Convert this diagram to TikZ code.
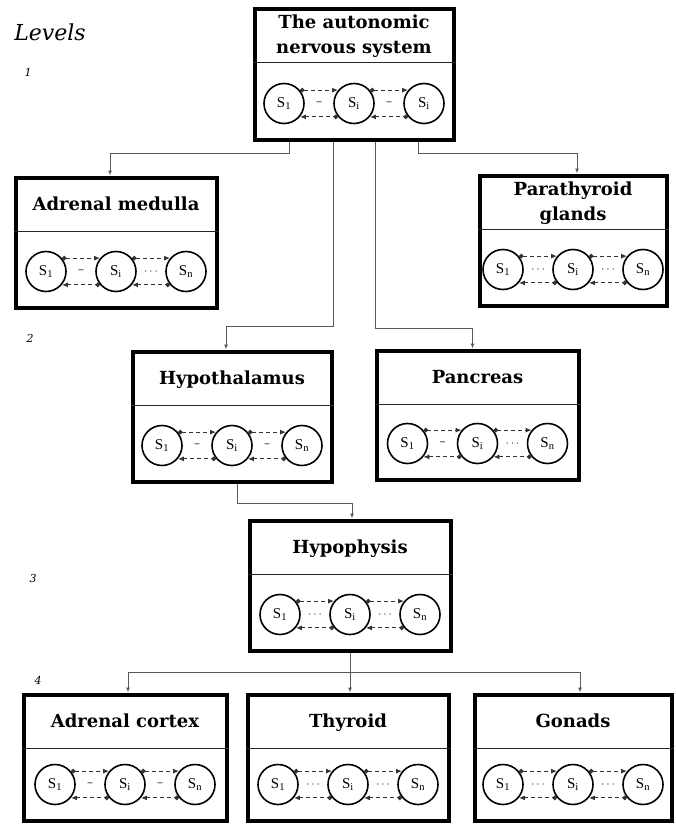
\documentclass[tikz,border=0pt]{standalone}
\usepackage{fontspec}
\setmainfont{DejaVu Serif}
\newfontfamily\ringfont{Liberation Serif}
\usetikzlibrary{arrows.meta}
\begin{document}
\begin{tikzpicture}[x=1pt,y=-1pt]
\tikzstyle{organ}=[draw, line width=4pt, minimum height=133pt, inner sep=0pt]
\tikzstyle{headline}=[font=\fontsize{18}{25}\selectfont\bfseries, align=center, inner sep=0pt]
\tikzstyle{ring}=[draw, circle, line width=1.6pt, minimum size=40pt, inner sep=0pt, font=\ringfont\fontsize{15}{17}\selectfont]
\tikzstyle{flow}=[dash pattern=on 4pt off 3pt, line width=1pt, black!80]
\tikzstyle{gapmark}=[font=\fontsize{12}{12}\selectfont, inner sep=0pt, black!85]
\tikzstyle{link}=[line width=1pt, black!65, -{Latex[length=5pt,width=4pt]}]
\tikzstyle{lvl}=[font=\itshape\fontsize{11}{13}\selectfont, inner sep=0pt]
\useasboundingbox (0,0) rectangle (675,827);
\node[lvl, font=\itshape\fontsize{22}{24}\selectfont] (lv) at (50,32) {Levels};
\node[lvl] (lv1) at (28,72) {1};
\node[lvl] (lv2) at (30,338) {2};
\node[lvl] (lv3) at (33,578) {3};
\node[lvl] (lv4) at (38,680) {4};
\node[organ, minimum width=199pt, minimum height=131pt] (ans) at (354,74) {};
\node[organ, minimum width=201pt, minimum height=130pt] (med) at (116,242.5) {};
\node[organ, minimum width=187pt, minimum height=130pt] (para) at (573,240.5) {};
\node[organ, minimum width=199pt, minimum height=130pt] (hyp) at (232,416.5) {};
\node[organ, minimum width=202pt, minimum height=129pt] (panc) at (477.5,415) {};
\node[organ, minimum width=201pt, minimum height=130pt] (pit) at (350,585.5) {};
\node[organ, minimum width=203pt, minimum height=126pt] (cort) at (125,757.5) {};
\node[organ, minimum width=201pt, minimum height=126pt] (thy) at (348,757.5) {};
\node[organ, minimum width=197pt, minimum height=126pt] (gon) at (573,757.5) {};
\node[headline] (ans-t) at ([yshift=-30]ans.north) {The autonomic\\nervous system};
\node[headline] (med-t) at ([yshift=-30]med.north) {\strut Adrenal medulla};
\node[headline] (para-t) at ([yshift=-30]para.north) {Parathyroid\\glands};
\node[headline] (hyp-t) at ([yshift=-30]hyp.north) {\strut Hypothalamus};
\node[headline] (panc-t) at ([yshift=-30]panc.north) {\strut Pancreas};
\node[headline] (pit-t) at ([yshift=-30]pit.north) {\strut Hypophysis};
\node[headline] (cort-t) at ([yshift=-30]cort.north) {\strut Adrenal cortex};
\node[headline] (thy-t) at ([yshift=-30]thy.north) {\strut Thyroid};
\node[headline] (gon-t) at ([yshift=-30]gon.north) {\strut Gonads};
\foreach \bx/\sa/\sc/\ga/\gb in {ans/1/i/--/--, med/1/n/--/$\cdots$, para/1/n/$\cdots$/$\cdots$, hyp/1/n/--/--, panc/1/n/--/$\cdots$, pit/1/n/$\cdots$/$\cdots$, cort/1/n/--/--, thy/1/n/$\cdots$/$\cdots$, gon/1/n/$\cdots$/$\cdots$}
{
\draw[line width=1.8pt, black!85] ([yshift=-56]\bx.north west) -- ([yshift=-56]\bx.north east);
\coordinate (\bx-r) at ([yshift=38]\bx.south);
\node[ring] (\bx-1) at ([xshift=-70]\bx-r) {S\textsubscript{\sa}};
\node[ring] (\bx-2) at (\bx-r) {S\textsubscript{i}};
\node[ring] (\bx-3) at ([xshift=70]\bx-r) {S\textsubscript{\sc}};
\draw[flow, {Circle[length=4.5pt]}-{Latex[length=6pt,width=5pt]}] (\bx-1.40) -- (\bx-2.140);
\draw[flow, {Latex[length=6pt,width=5pt]}-{Circle[length=4.5pt]}] (\bx-1.-40) -- (\bx-2.-140);
\draw[flow, {Circle[length=4.5pt]}-{Latex[length=6pt,width=5pt]}] (\bx-2.40) -- (\bx-3.140);
\draw[flow, {Latex[length=6pt,width=5pt]}-{Circle[length=4.5pt]}] (\bx-2.-40) -- (\bx-3.-140);
\path (\bx-1) -- node[gapmark] (\bx-g1) {\ga} (\bx-2);
\path (\bx-2) -- node[gapmark] (\bx-g2) {\gb} (\bx-3);
}
\draw[link] ([xshift=-65]ans.south) -- ++(0,12) -| ([xshift=-6]med.north);
\draw[link] ([xshift=-21]ans.south) -- ++(0,185) -| ([xshift=-6]hyp.north);
\draw[link] ([xshift=21]ans.south) -- ++(0,187) -| ([xshift=-5]panc.north);
\draw[link] ([xshift=64]ans.south) -- ++(0,12) -| ([xshift=4]para.north);
\draw[link] ([xshift=5]hyp.south) -- ++(0,20) -| ([xshift=2]pit.north);
\draw[link] (pit.south) -- (pit.south |- thy.north);
\draw[link] (pit.south) -- ++(0,20) -| ([xshift=3]cort.north);
\draw[link] (pit.south) -- ++(0,20) -| ([xshift=7]gon.north);
\end{tikzpicture}
\end{document}
